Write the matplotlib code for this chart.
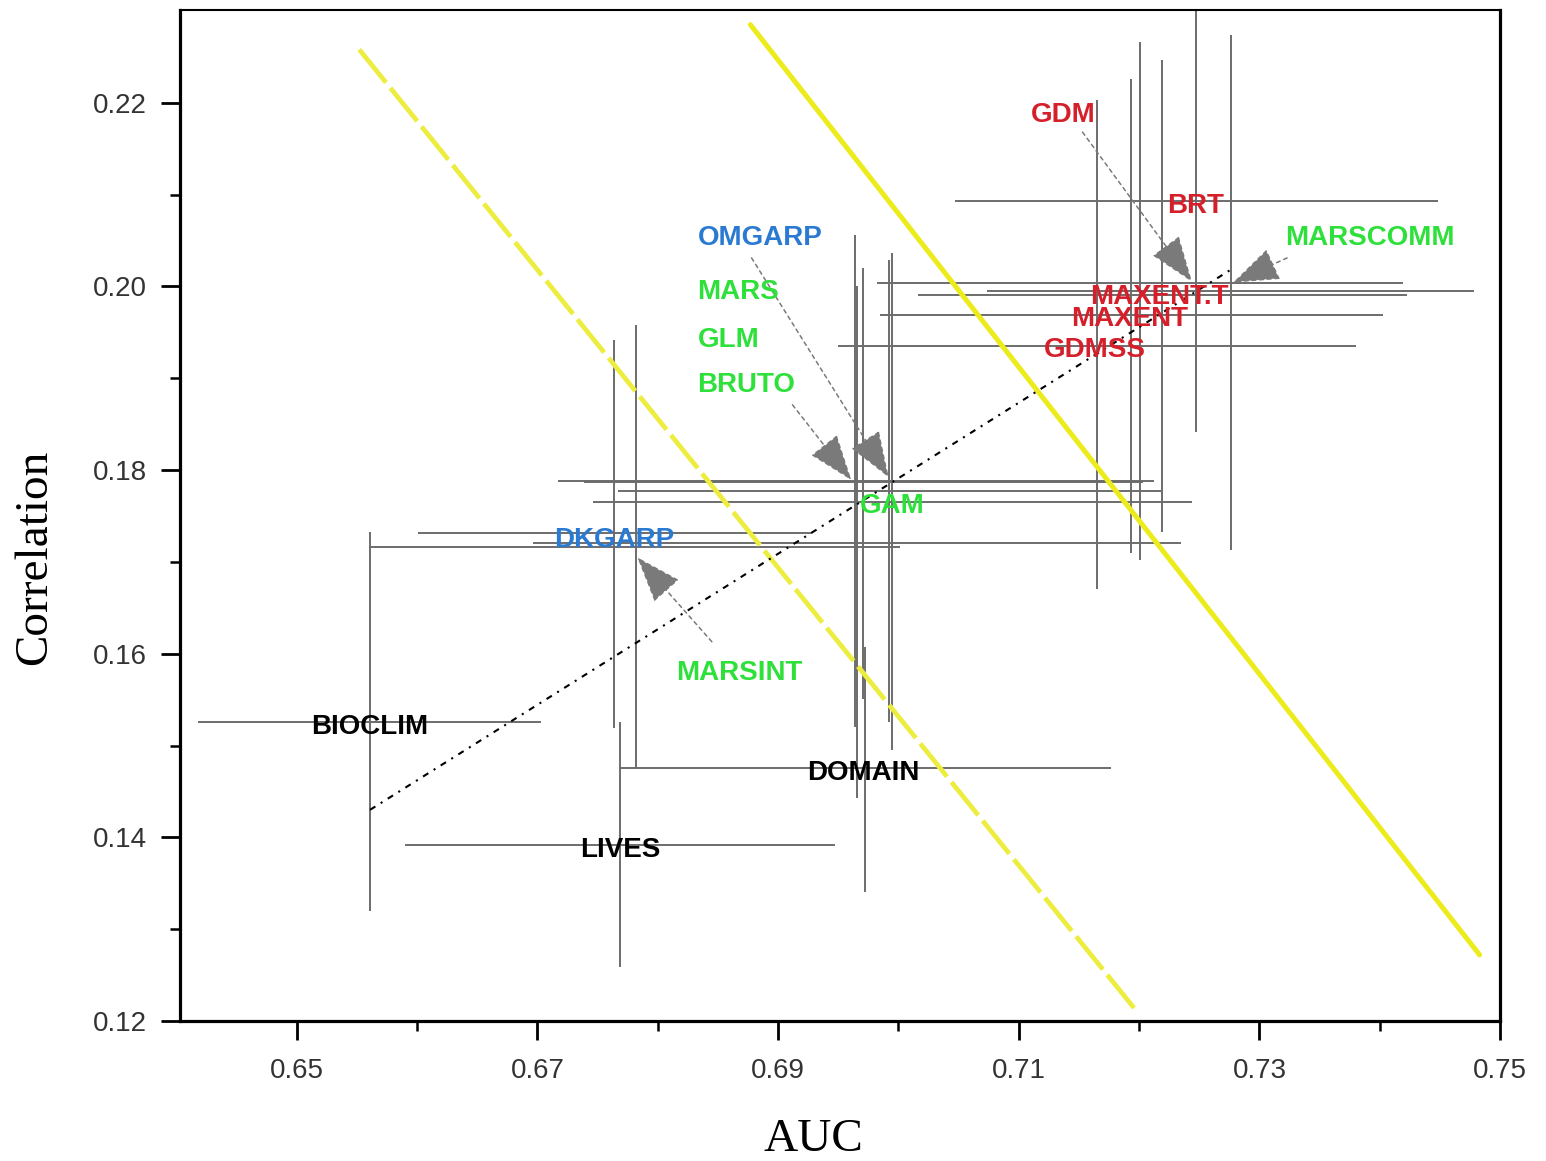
import numpy as np
import matplotlib.pyplot as plt

# %% values: mean AUC / correlation and the interval ends
models  = ['BIOCLIM', 'LIVES', 'DOMAIN', 'DKGARP', 'MARSINT', 'MARS', 'GLM', 'BRUTO',
           'OMGARP', 'GAM', 'GDM', 'BRT', 'MAXENT.T', 'MAXENT', 'GDMSS', 'MARSCOMM']
group   = ['env', 'env', 'env', 'garp', 'reg', 'reg', 'reg', 'reg',
           'garp', 'reg', 'new', 'new', 'new', 'new', 'new', 'reg']
auc     = [0.6561, 0.6769, 0.6972, 0.6764, 0.6782, 0.6964, 0.6971, 0.6966,
           0.6992, 0.6995, 0.7201, 0.7247, 0.7219, 0.7193, 0.7165, 0.7276]
auc_lo  = [0.6418, 0.6590, 0.6769, 0.6601, 0.6561, 0.6717, 0.6739, 0.6696,
           0.6767, 0.6746, 0.6982, 0.7047, 0.7016, 0.6985, 0.6950, 0.7074]
auc_hi  = [0.6703, 0.6947, 0.7177, 0.6928, 0.7001, 0.7212, 0.7203, 0.7235,
           0.7218, 0.7244, 0.7419, 0.7448, 0.7423, 0.7403, 0.7380, 0.7478]
cor     = [0.1526, 0.1392, 0.1476, 0.1731, 0.1716, 0.1788, 0.1787, 0.1721,
           0.1777, 0.1765, 0.2004, 0.2093, 0.1991, 0.1969, 0.1935, 0.1995]
cor_lo  = [0.1320, 0.1259, 0.1341, 0.1519, 0.1476, 0.1520, 0.1551, 0.1443,
           0.1526, 0.1495, 0.1702, 0.1841, 0.1733, 0.1710, 0.1670, 0.1713]
cor_hi  = [0.1732, 0.1526, 0.1607, 0.1942, 0.1958, 0.2056, 0.2020, 0.2000,
           0.2029, 0.2036, 0.2266, 0.2346, 0.2247, 0.2226, 0.2203, 0.2274]

# reference lines (yellow) and the dotted trend
iso_solid_auc = [0.6877, 0.7483]
iso_solid_cor = [0.2285, 0.1272]
iso_dash_auc  = [0.6552, 0.7199]
iso_dash_cor  = [0.2258, 0.1209]
trend_auc     = [0.6561, 0.7276]
trend_cor     = [0.1430, 0.2018]

x_ticks = [0.65, 0.67, 0.69, 0.71, 0.73, 0.75]
y_ticks = [0.12, 0.14, 0.16, 0.18, 0.20, 0.22]

# %% layout of the labels (data coords) and the hand drawn pointer arrows
label_pos = {
    'BIOCLIM': (0.6561, 0.1520, 'center'), 'LIVES': (0.6769, 0.1386, 'center'),
    'DOMAIN': (0.6971, 0.1470, 'center'), 'DKGARP': (0.6764, 0.1724, 'center'),
    'MARSINT': (0.6868, 0.1579, 'center'), 'MARS': (0.6833, 0.1994, 'left'),
    'GLM': (0.6833, 0.1942, 'left'), 'BRUTO': (0.6833, 0.1893, 'left'),
    'OMGARP': (0.6833, 0.2053, 'left'), 'GAM': (0.6995, 0.1761, 'center'),
    'GDM': (0.7137, 0.2187, 'center'), 'BRT': (0.7247, 0.2087, 'center'),
    'MAXENT.T': (0.7217, 0.1988, 'center'), 'MAXENT': (0.7192, 0.1964, 'center'),
    'GDMSS': (0.7163, 0.1931, 'center'), 'MARSCOMM': (0.7392, 0.2053, 'center'),
}
arrows = [  # (tail, tip)
    ((0.7153, 0.2168), (0.7244, 0.2005)),   # GDM
    ((0.6878, 0.2031), (0.6992, 0.1792)),   # OMGARP
    ((0.6912, 0.1871), (0.6961, 0.1789)),   # MARS/GLM/BRUTO
    ((0.7323, 0.2031), (0.7278, 0.2004)),   # MARSCOMM
    ((0.6845, 0.1613), (0.6783, 0.1705)),   # MARSINT
]
colours = {'env': 'black', 'garp': '#2a7ad2', 'reg': '#2ee03a', 'new': '#d51f2b'}

auc = np.array(auc); cor = np.array(cor)
xerr = [auc - np.array(auc_lo), np.array(auc_hi) - auc]
yerr = [cor - np.array(cor_lo), np.array(cor_hi) - cor]

# %% plot
fig = plt.figure(figsize=(15.46, 11.61), dpi=100)
ax = fig.add_axes([0.1164, 0.1206, 0.8539, 0.8708])

ax.errorbar(auc, cor, xerr=xerr, yerr=yerr, fmt='none', ecolor='#6c6c6c',
            elinewidth=1.4, capsize=0, zorder=2)

ax.plot(iso_solid_auc, iso_solid_cor, color='#ecec1c', lw=3.6, solid_capstyle='round', zorder=3)
ax.plot(iso_dash_auc, iso_dash_cor, color='#eded40', lw=3.4, ls=(0, (9, 1.5)), zorder=3)
ax.plot(trend_auc, trend_cor, color='black', lw=1.5, ls=(0, (3, 3, 1, 3)), zorder=4)

for tail, tip in arrows:
    ax.annotate('', xy=tip, xytext=tail, zorder=5,
                arrowprops=dict(arrowstyle='-|>,head_length=1.1,head_width=0.4',
                                mutation_scale=27, color='#7a7a7a', lw=1.1,
                                ls=(0, (2.5, 2.5)), shrinkA=0, shrinkB=0))

for name, grp in zip(models, group):
    x, y, ha = label_pos[name]
    ax.text(x, y, name, color=colours[grp], ha=ha, va='center', fontsize=20,
            fontweight='bold', family='Liberation Sans', zorder=6)

ax.set_xlim(0.6403, 0.75)
ax.set_ylim(0.12, 0.2301)
ax.set_xticks(x_ticks)
ax.set_xticklabels([f'{v:.2f}' for v in x_ticks])
ax.set_xticks([0.66, 0.68, 0.70, 0.72, 0.74], minor=True)
ax.set_yticks(y_ticks)
ax.set_yticklabels([f'{v:.2f}' for v in y_ticks])
ax.set_yticks([0.13, 0.15, 0.17, 0.19, 0.21], minor=True)

ax.tick_params(which='major', direction='out', length=14, width=2, labelsize=20,
               labelcolor='#333333')
ax.tick_params(axis='x', which='major', pad=13)
ax.tick_params(axis='y', which='major', pad=10)
ax.tick_params(which='minor', direction='out', length=7, width=1.8)
for lab in ax.get_xticklabels() + ax.get_yticklabels():
    lab.set_family('Liberation Sans')

for side in ['left', 'bottom', 'right']:
    ax.spines[side].set_linewidth(2.3)
ax.spines['top'].set_linewidth(1.5)

fig.text(35 / 1546, 1 - 557 / 1161, 'Correlation', rotation=90, ha='center', va='center',
         fontsize=34, family='Liberation Serif')
fig.text(813 / 1546, 1 - 1140 / 1161, 'AUC', ha='center', va='center',
         fontsize=34, family='Liberation Serif')

plt.savefig('out.png', dpi=100)
